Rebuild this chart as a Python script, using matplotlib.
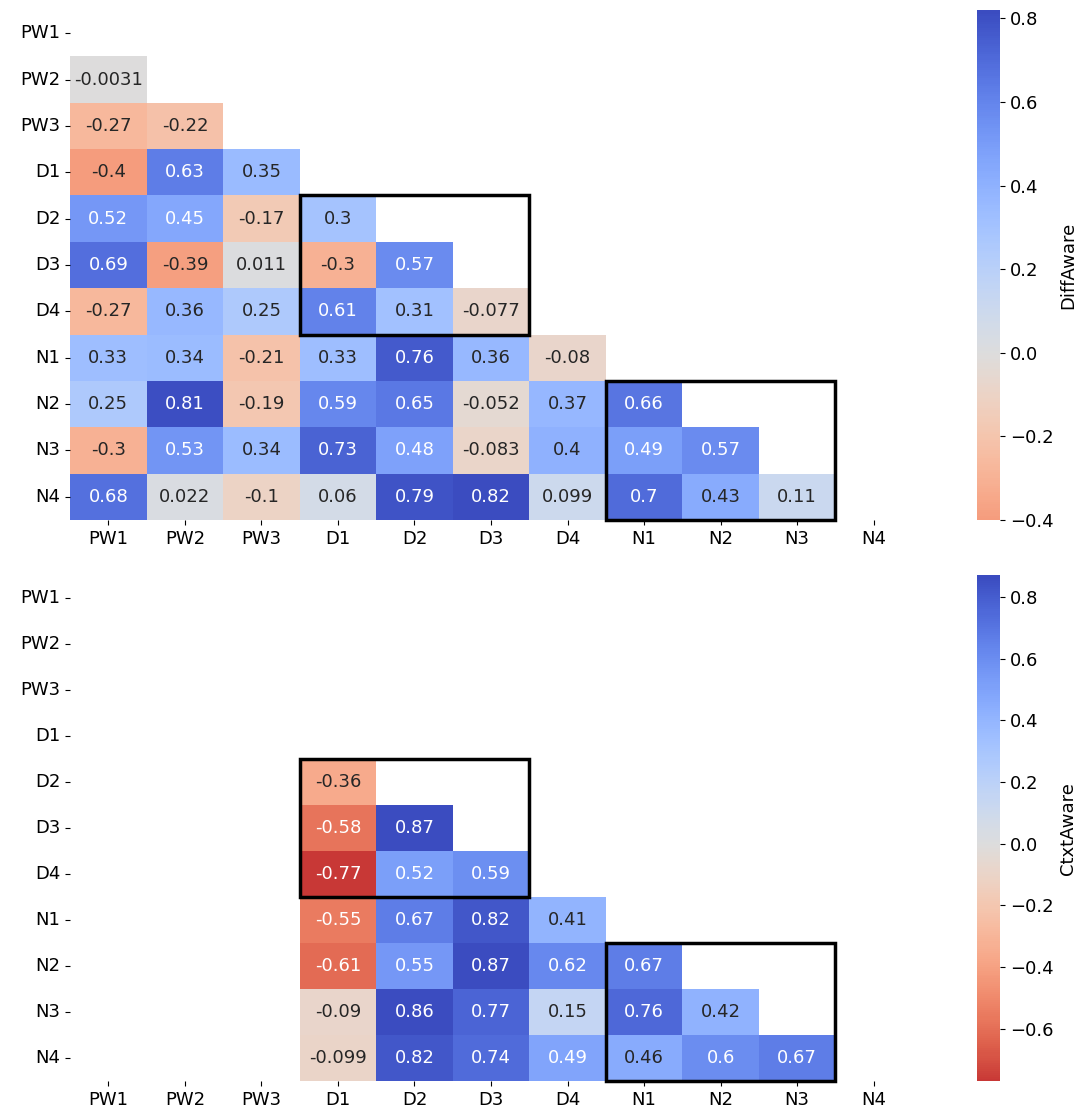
import numpy as np
import matplotlib
matplotlib.use("Agg")
import matplotlib.pyplot as plt
import seaborn as sns
from matplotlib.patches import Rectangle

labels = ["PW1", "PW2", "PW3", "D1", "D2", "D3", "D4", "N1", "N2", "N3", "N4"]

# lower triangle rows (row i holds columns 0..i-1)
diff_rows = [
    [],
    [-0.0031],
    [-0.27, -0.22],
    [-0.4, 0.63, 0.35],
    [0.52, 0.45, -0.17, 0.3],
    [0.69, -0.39, 0.011, -0.3, 0.57],
    [-0.27, 0.36, 0.25, 0.61, 0.31, -0.077],
    [0.33, 0.34, -0.21, 0.33, 0.76, 0.36, -0.08],
    [0.25, 0.81, -0.19, 0.59, 0.65, -0.052, 0.37, 0.66],
    [-0.3, 0.53, 0.34, 0.73, 0.48, -0.083, 0.4, 0.49, 0.57],
    [0.68, 0.022, -0.1, 0.06, 0.79, 0.82, 0.099, 0.7, 0.43, 0.11],
]

nan = np.nan
ctxt_rows = [
    [],
    [nan],
    [nan, nan],
    [nan, nan, nan],
    [nan, nan, nan, -0.36],
    [nan, nan, nan, -0.58, 0.87],
    [nan, nan, nan, -0.77, 0.52, 0.59],
    [nan, nan, nan, -0.55, 0.67, 0.82, 0.41],
    [nan, nan, nan, -0.61, 0.55, 0.87, 0.62, 0.67],
    [nan, nan, nan, -0.09, 0.86, 0.77, 0.15, 0.76, 0.42],
    [nan, nan, nan, -0.099, 0.82, 0.74, 0.49, 0.46, 0.6, 0.67],
]


def to_matrix(rows):
    n = len(rows)
    m = np.full((n, n), np.nan)
    for i, r in enumerate(rows):
        m[i, :len(r)] = r
    return m


fig = plt.figure(figsize=(10.78, 11.17), dpi=100)

panels = [
    (diff_rows, "DiffAware", [0.065, 0.5345, 0.781, 0.4565], [0.906, 0.5345, 0.022, 0.4565]),
    (ctxt_rows, "CtxtAware", [0.065, 0.032, 0.781, 0.453], [0.906, 0.032, 0.022, 0.453]),
]

for rows, name, hpos, cpos in panels:
    data = to_matrix(rows)
    mask = np.triu(np.ones_like(data, dtype=bool))
    ax = fig.add_axes(hpos)
    cax = fig.add_axes(cpos)
    sns.heatmap(data, mask=mask, cmap="coolwarm_r", center=0, annot=True,
                annot_kws={"size": 13}, xticklabels=labels, yticklabels=labels,
                ax=ax, cbar_ax=cax)
    ax.tick_params(labelsize=13)
    ax.set_yticklabels(labels, rotation=0)
    ax.set_xticklabels(labels, rotation=0)
    cax.tick_params(labelsize=13)
    cax.set_ylabel(name, fontsize=13)
    # highlight blocks
    ax.add_patch(Rectangle((3, 4), 3, 3, fill=False, edgecolor="black", lw=2.5, clip_on=False))
    ax.add_patch(Rectangle((7, 8), 3, 3, fill=False, edgecolor="black", lw=2.5, clip_on=False))

fig.savefig("out.png", dpi=100)
